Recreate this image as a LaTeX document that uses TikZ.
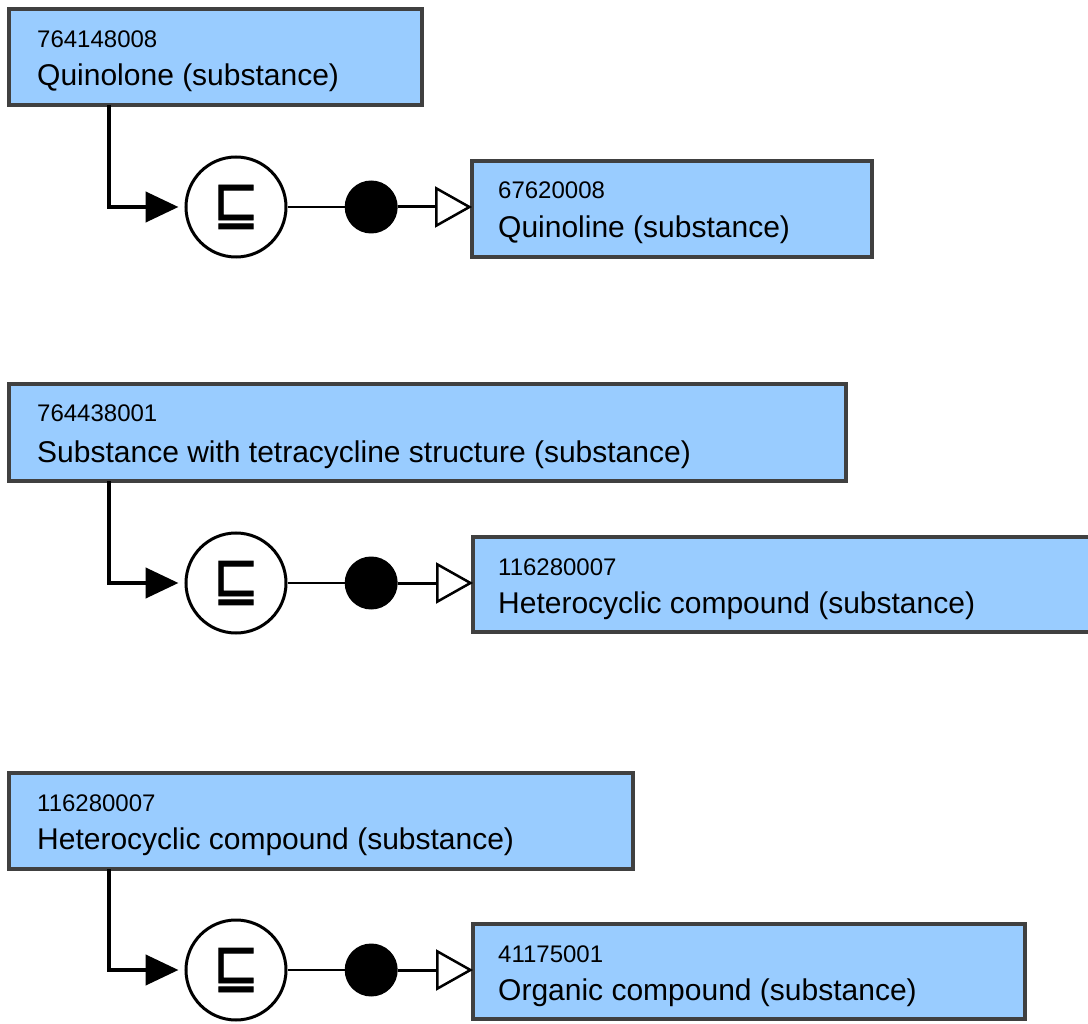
\documentclass[tikz,border=0pt]{standalone}
\usepackage{graphicx}
\usepackage{fontspec}
\setmainfont{Liberation Sans}
\newfontfamily\symfont[FakeBold=1.3]{DejaVu Sans}
\usetikzlibrary{arrows.meta, positioning}
\definecolor{conceptfill}{HTML}{99CCFF}
\definecolor{conceptdraw}{HTML}{404040}

\begin{document}
\begin{tikzpicture}[
  x=1pt, y=-1pt,
  concept/.style={draw=conceptdraw, line width=4pt, fill=conceptfill, anchor=north west, inner sep=0pt, outer sep=0pt, minimum height=96pt},
  sctid/.style={anchor=base west, inner sep=0pt, font=\fontsize{24}{28}\selectfont},
  fsn/.style={anchor=base west, inner sep=0pt, font=\fontsize{30}{34}\selectfont},
  isa/.style={draw, circle, line width=3pt, fill=white, minimum size=100pt, inner sep=0pt},
  grp/.style={circle, fill=black, minimum size=53pt, inner sep=0pt},
  link/.style={line width=4.5pt, -{Triangle[length=33pt, width=30pt]}, shorten >=6pt},
  attr/.style={line width=3pt, -{Triangle[open, fill=white, length=37pt, width=41pt, line width=2.5pt]}},
  >=Latex
]
  \useasboundingbox (0,0) rectangle (1088,1024);

  % Quinolone -> Quinoline
  \node[concept, minimum width=413pt] (a) at (9,9) {};
  \node[sctid] (a-id) at ([shift={(28pt,-39pt)}]a.north west) {764148008};
  \node[fsn] (a-fsn) at ([shift={(28pt,-77pt)}]a.north west) {Quinolone (substance)};
  \node[isa] (s1) at (236,207) {\resizebox*{46pt}{44pt}{\symfont ⊑}};
  \node[grp, right=57pt of s1] (g1) {};
  \node[concept, minimum width=400pt] (b) at (472,161) {};
  \node[sctid] (b-id) at ([shift={(26pt,-38pt)}]b.north west) {67620008};
  \node[fsn] (b-fsn) at ([shift={(26pt,-77pt)}]b.north west) {Quinoline (substance)};
  \draw[link] ([xshift=100pt]a.south west) |- (s1);
  \draw[line width=2.5pt] (s1) -- (g1);
  \draw[attr] (g1) -- (g1 -| b.west);

  % tetracycline structure -> Heterocyclic compound
  \node[concept, minimum width=837pt, minimum height=97pt] (c) at (9,384) {};
  \node[sctid] (c-id) at ([shift={(28pt,-38pt)}]c.north west) {764438001};
  \node[fsn] (c-fsn) at ([shift={(28pt,-78pt)}]c.north west) {Substance with tetracycline structure (substance)};
  \node[isa] (s2) at (236,583) {\resizebox*{46pt}{44pt}{\symfont ⊑}};
  \node[grp, right=57pt of s2] (g2) {};
  \node[concept, minimum width=625pt, minimum height=95pt] (d) at (473,537) {};
  \node[sctid] (d-id) at ([shift={(25pt,-38pt)}]d.north west) {116280007};
  \node[fsn] (d-fsn) at ([shift={(25pt,-76pt)}]d.north west) {Heterocyclic compound (substance)};
  \draw[link] ([xshift=100pt]c.south west) |- (s2);
  \draw[line width=2.5pt] (s2) -- (g2);
  \draw[attr] (g2) -- (g2 -| d.west);

  % Heterocyclic compound -> Organic compound
  \node[concept, minimum width=624pt] (e) at (9,773) {};
  \node[sctid] (e-id) at ([shift={(28pt,-38pt)}]e.north west) {116280007};
  \node[fsn] (e-fsn) at ([shift={(28pt,-76pt)}]e.north west) {Heterocyclic compound (substance)};
  \node[isa] (s3) at (236,970) {\resizebox*{46pt}{44pt}{\symfont ⊑}};
  \node[grp, right=57pt of s3] (g3) {};
  \node[concept, minimum width=552pt, minimum height=95pt] (f) at (473,924) {};
  \node[sctid] (f-id) at ([shift={(25pt,-38pt)}]f.north west) {41175001};
  \node[fsn] (f-fsn) at ([shift={(25pt,-76pt)}]f.north west) {Organic compound (substance)};
  \draw[link] ([xshift=100pt]e.south west) |- (s3);
  \draw[line width=2.5pt] (s3) -- (g3);
  \draw[attr] (g3) -- (g3 -| f.west);
\end{tikzpicture}
\end{document}
